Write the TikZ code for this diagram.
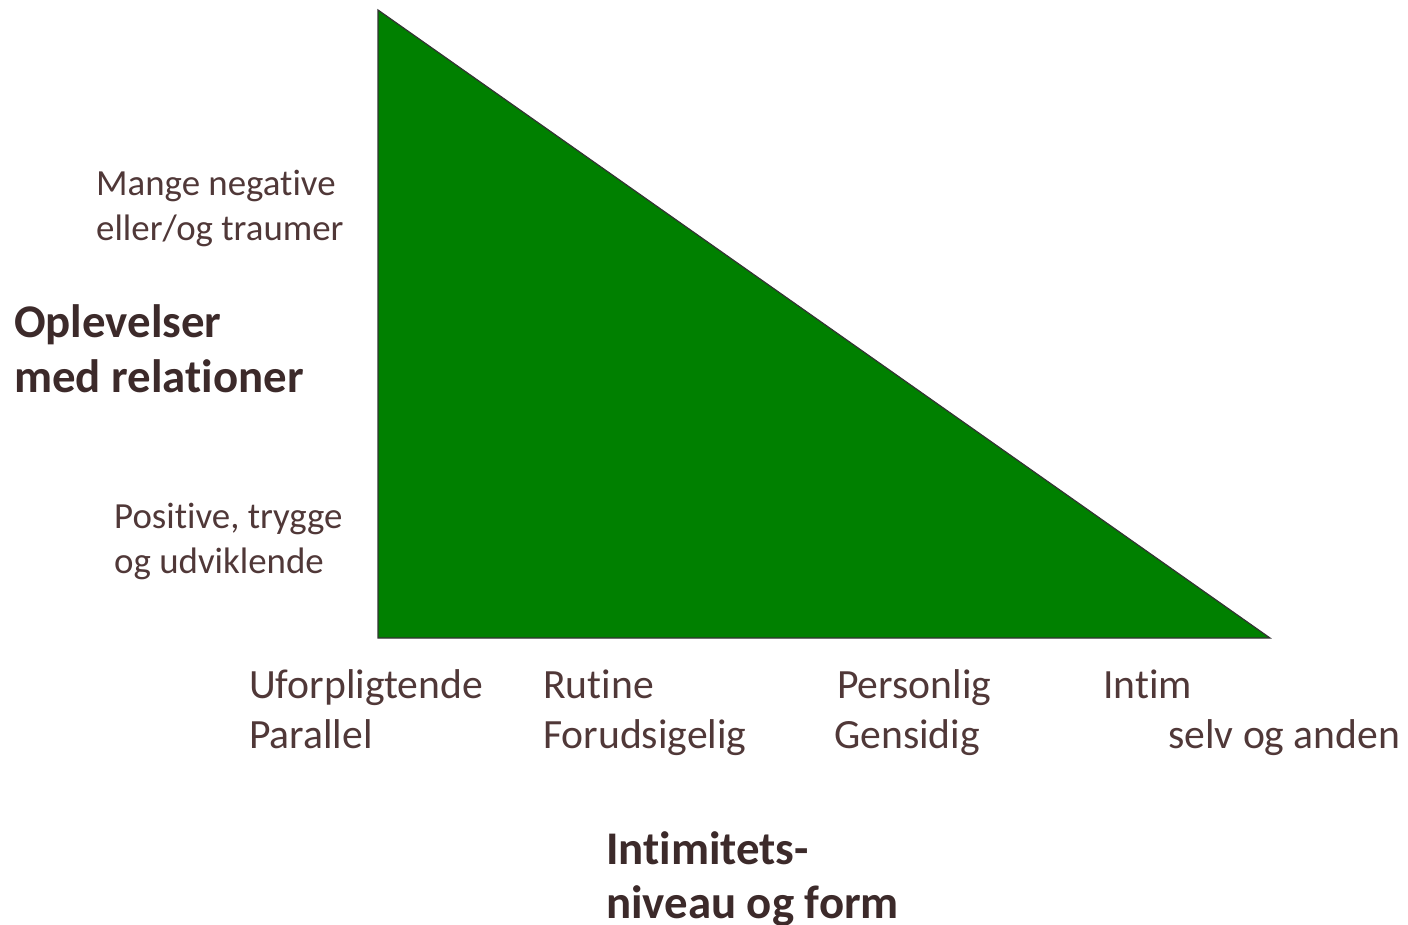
\documentclass[tikz,border=0pt]{standalone}
\usepackage{fontspec}
\setmainfont[Ligatures=NoCommon]{Carlito}
\definecolor{txtsmall}{RGB}{80,56,56}
\definecolor{txtbold}{RGB}{60,42,42}
\definecolor{tri}{RGB}{0,128,0}
\begin{document}
\begin{tikzpicture}[x=1bp,y=-1bp,
  small/.style={inner sep=0pt, anchor=base west, align=left, text=txtsmall, font=\fontsize{37}{45}\selectfont},
  mid/.style={inner sep=0pt, anchor=base west, align=left, text=txtsmall, font=\fontsize{41.8}{50}\selectfont},
  big/.style={inner sep=0pt, anchor=base west, align=left, text=txtbold, font=\bfseries\fontsize{47}{55}\selectfont}]
\useasboundingbox (0,0) rectangle (1408,924);
\coordinate (A) at (378,10);
\coordinate (B) at (378,638);
\coordinate (C) at (1270,638);
\draw[fill=tri, draw=black!80, line width=1.2bp, line join=miter] (A) -- (B) -- (C) -- cycle;
\node[small] (neg) at (96,240) {Mange negative\\eller/og traumer};
\node[big] (opl) at (14,392) {Oplevelser\\med relationer};
\node[small] (pos) at (114,573) {Positive, trygge\\og udviklende};
\node[mid] (ufo) at (249,748) {Uforpligtende\\Parallel};
\node[mid] (rut) at (543,748) {Rutine\\Forudsigelig};
\node[mid] (per) at (834,748) {\hspace*{3bp}Personlig\\Gensidig};
\node[mid] (int) at (1103,748) {Intim\\\hspace*{65bp}selv og anden};
\node[big, font=\bfseries\fontsize{47}{54}\selectfont] (niv) at (606,918) {Intimitets-\\niveau og form};
\end{tikzpicture}
\end{document}
